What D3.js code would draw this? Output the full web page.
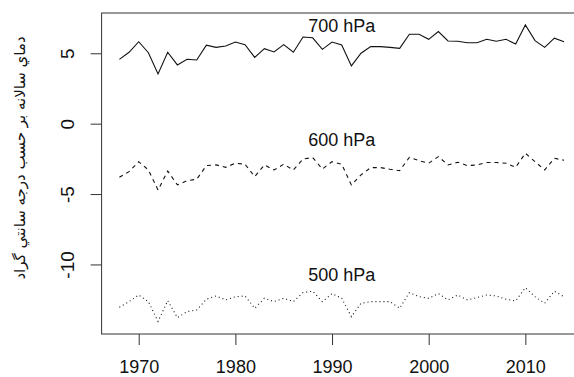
<!DOCTYPE html>
<html>
<head>
<meta charset="utf-8">
<script src="https://cdn.jsdelivr.net/npm/d3@7"></script>
<style>
  html, body { margin: 0; padding: 0; background: #fff; }
  svg { display: block; font-family: "Liberation Sans", Arial, "DejaVu Sans", sans-serif; }
</style>
</head>
<body>
<div id="chart"></div>
<script>
const years = d3.range(1968, 2015);

const t700 = [4.57, 5.07, 5.82, 5.04, 3.53, 5.07, 4.17, 4.57, 4.52, 5.57,
  5.42, 5.52, 5.80, 5.61, 4.71, 5.33, 5.09, 5.61, 5.07, 6.15,
  6.10, 5.28, 5.80, 5.59, 4.10, 5.00, 5.47, 5.47, 5.42, 5.35,
  6.35, 6.35, 5.99, 6.54, 5.87, 5.85, 5.75, 5.75, 5.99, 5.85,
  5.99, 5.66, 7.01, 5.90, 5.42, 6.07, 5.82];

const t600 = [-3.81, -3.41, -2.70, -3.29, -4.71, -3.36, -4.35, -4.05, -3.95, -2.98,
  -2.93, -3.10, -2.81, -2.88, -3.76, -2.93, -3.29, -2.88, -3.29, -2.51,
  -2.41, -3.22, -2.70, -2.88, -4.35, -3.64, -3.12, -3.12, -3.24, -3.34,
  -2.39, -2.63, -2.81, -2.34, -2.93, -2.74, -2.98, -2.93, -2.76, -2.76,
  -2.81, -3.10, -2.10, -2.70, -3.29, -2.46, -2.60];

const t500 = [-13.04, -12.64, -12.17, -12.64, -14.05, -12.57, -13.78, -13.35, -13.23, -12.47,
  -12.24, -12.52, -12.29, -12.24, -13.11, -12.40, -12.64, -12.40, -12.64, -12.00,
  -11.90, -12.64, -12.07, -12.40, -13.71, -12.76, -12.64, -12.64, -12.64, -13.11,
  -12.00, -12.29, -12.40, -12.07, -12.52, -12.17, -12.52, -12.35, -12.17, -12.24,
  -12.47, -12.59, -11.65, -12.29, -12.76, -11.90, -12.29];

const seriesNames = ['700 hPa', '600 hPa', '500 hPa'];
const labelYears = [1991, 1991, 1991];
const labelValues = [6.93, -1.16, -10.76];
const dashes = [null, '4,4', '1,3'];

const xTicks = [1970, 1980, 1990, 2000, 2010];
const yTicks = [-10, -5, 0, 5];
const yLabel = 'دماي سالانه بر حسب درجه سانتي گراد';

const width = 574, height = 377;
const plot = { left: 101.6, right: 581.8, top: 13, bottom: 334 };

const svg = d3.select('#chart').append('svg')
  .attr('width', width)
  .attr('height', height);

// R style limits: data range plus 4% each side
const xPad = (2014 - 1968) * 0.04;
const x = d3.scaleLinear()
  .domain([1968 - xPad, 2014 + xPad])
  .range([plot.left, plot.right]);

const y = d3.scaleLinear()
  .domain([-14.94, 7.86])
  .range([plot.bottom, plot.top]);

// box
svg.append('rect')
  .attr('x', plot.left)
  .attr('y', plot.top)
  .attr('width', plot.right - plot.left)
  .attr('height', plot.bottom - plot.top)
  .attr('fill', 'none')
  .attr('stroke', '#333')
  .attr('stroke-width', 1);

// x axis
const xAxis = svg.append('g')
  .attr('transform', `translate(0,${plot.bottom})`)
  .call(d3.axisBottom(x).tickValues(xTicks).tickSize(11).tickPadding(15).tickFormat(d3.format('d')));
xAxis.select('.domain').remove();
xAxis.selectAll('line').attr('stroke', '#333');
xAxis.selectAll('text')
  .attr('font-size', 18)
  .attr('fill', '#111')
  .attr('font-family', '"Liberation Sans", Arial, sans-serif');

// y axis, labels rotated like R's las=0
const yAxis = svg.append('g')
  .attr('transform', `translate(${plot.left},0)`)
  .call(d3.axisLeft(y).tickValues(yTicks).tickSize(11).tickFormat(d => d));
yAxis.select('.domain').remove();
yAxis.selectAll('line').attr('stroke', '#333');
yAxis.selectAll('text')
  .attr('font-size', 19)
  .attr('fill', '#111')
  .attr('font-family', '"Liberation Sans", Arial, sans-serif')
  .attr('x', null)
  .attr('dy', null)
  .attr('text-anchor', 'middle')
  .attr('transform', `translate(-28,0) rotate(-90)`)
  .attr('y', 0);

// y label
svg.append('text')
  .attr('transform', `translate(20,158) rotate(-90)`)
  .attr('text-anchor', 'middle')
  .attr('dominant-baseline', 'central')
  .attr('font-size', 15)
  .attr('fill', '#111')
  .attr('font-family', '"DejaVu Sans", sans-serif')
  .text(yLabel);

const line = d3.line()
  .x((d, i) => x(years[i]))
  .y(d => y(d));

[t700, t600, t500].forEach((vals, k) => {
  svg.append('path')
    .datum(vals)
    .attr('fill', 'none')
    .attr('stroke', '#111')
    .attr('stroke-width', 1.1)
    .attr('stroke-dasharray', dashes[k])
    .attr('d', line);

  svg.append('text')
    .attr('x', x(labelYears[k]))
    .attr('y', y(labelValues[k]))
    .attr('text-anchor', 'middle')
    .attr('dominant-baseline', 'central')
    .attr('font-size', 18)
    .attr('fill', '#111')
    .text(seriesNames[k]);
});
</script>
</body>
</html>
